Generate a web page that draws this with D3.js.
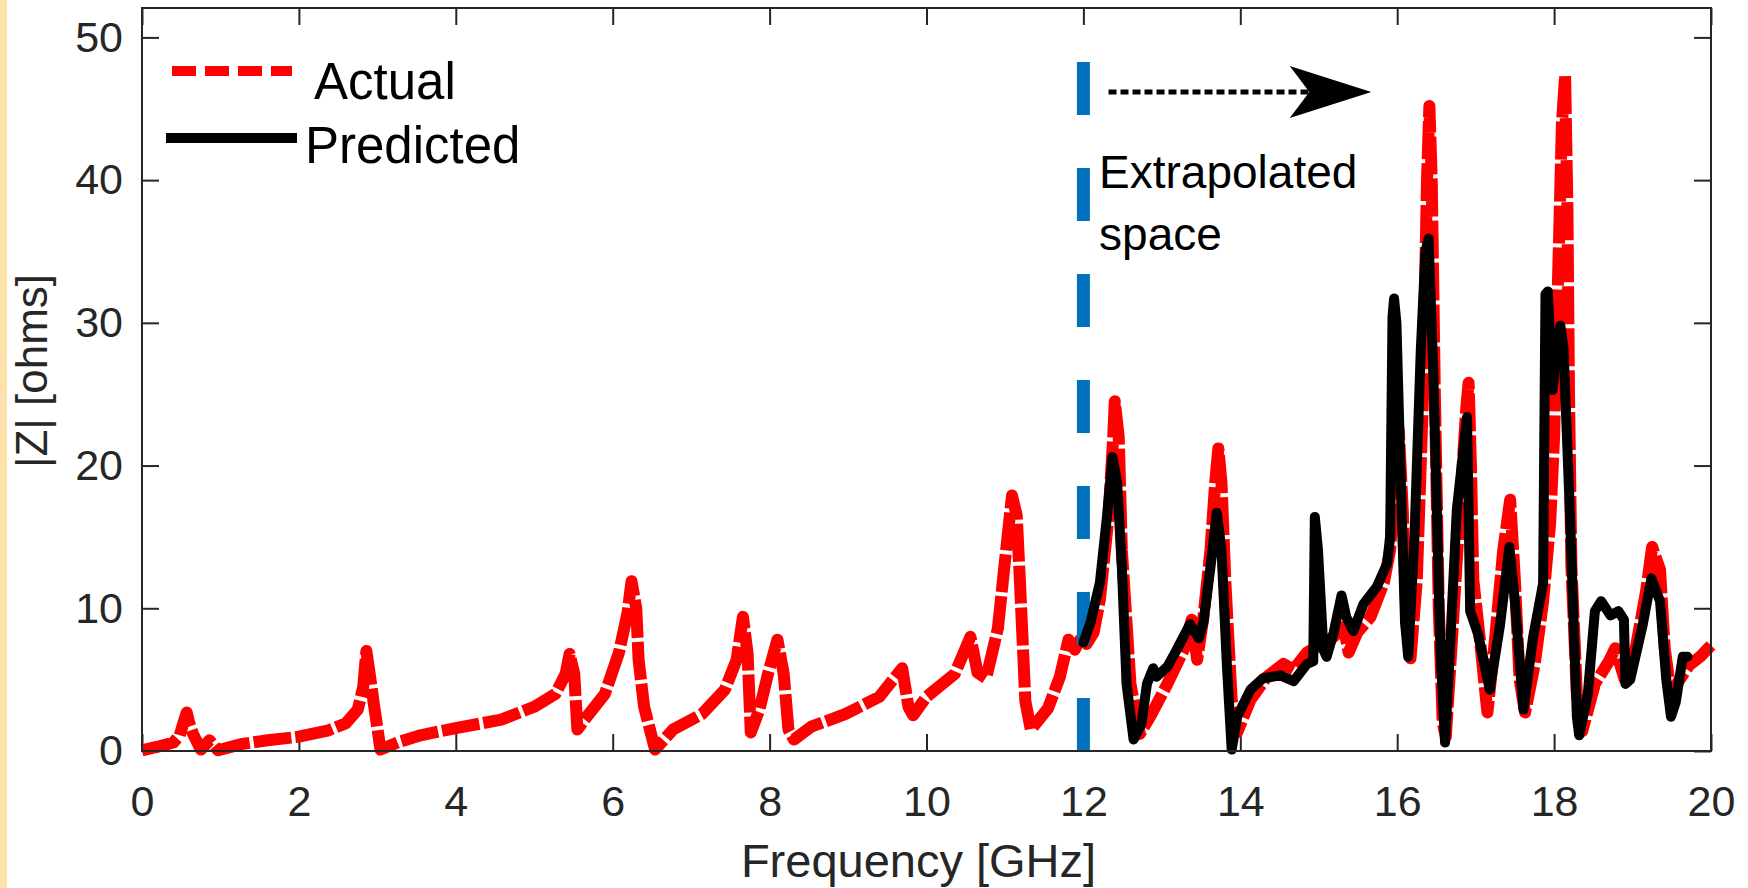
<!DOCTYPE html>
<html>
<head>
<meta charset="utf-8">
<script src="https://cdn.jsdelivr.net/npm/d3@7/dist/d3.min.js"></script>
<style>
  html, body { margin: 0; padding: 0; background: #fff; }
  svg text { font-family: "Liberation Sans", Arial, sans-serif; }
</style>
</head>
<body>
<script>
// |Z| actual (red) over 0-20 GHz
var freqActual = [0.00,0.20,0.40,0.48,0.53,0.57,0.60,0.65,0.75,0.86,0.97,1.28,1.60,2.00,2.38,2.60,2.75,2.82,2.86,2.90,2.95,3.04,
  3.26,3.55,4.00,4.58,5.00,5.27,5.40,5.45,5.51,5.55,5.64,5.90,6.08,6.19,6.24,6.30,6.33,6.40,6.54,6.77,7.14,7.43,7.58,7.66,7.72,
  7.76,7.87,7.98,8.10,8.18,8.24,8.31,8.53,8.97,9.40,9.69,9.77,9.83,10.00,10.36,10.56,10.65,10.76,10.91,11.00,11.09,11.15,11.19,
  11.26,11.33,11.55,11.70,11.81,11.89,11.96,12.04,12.13,12.21,12.32,12.38,12.40,12.45,12.49,12.60,12.72,12.85,13.07,13.28,13.38,
  13.45,13.53,13.62,13.68,13.72,13.76,13.81,13.89,13.96,14.13,14.34,14.55,14.68,14.85,14.98,15.19,15.32,15.38,15.49,15.66,15.83,
  15.91,15.98,16.02,16.07,16.12,16.17,16.25,16.33,16.38,16.41,16.44,16.48,16.53,16.58,16.62,16.70,16.80,16.88,16.91,16.94,16.97,
  17.00,17.07,17.15,17.25,17.35,17.44,17.50,17.56,17.63,17.75,17.86,17.95,18.00,18.05,18.10,18.14,18.17,18.19,18.22,18.29,18.36,
  18.52,18.70,18.78,18.90,19.04,19.17,19.25,19.35,19.41,19.49,19.60,19.72,19.86,20.00];
var zActual = [0.05,0.3,0.6,1.1,2.0,2.7,2.0,1.2,0.1,0.75,0.05,0.5,0.75,1.0,1.45,1.95,2.9,4.5,7.0,5.5,3.5,0.1,
  0.6,1.1,1.6,2.2,3.1,4.0,5.4,6.8,5.4,1.5,2.2,4.0,6.9,9.7,11.9,10.0,6.4,3.1,0.1,1.5,2.6,4.3,6.4,9.4,6.8,
  1.3,2.9,5.4,7.8,5.4,1.5,0.8,1.7,2.6,3.8,5.8,3.1,2.5,3.8,5.4,8.0,5.5,5.1,8.6,13.3,17.9,16.5,12.0,
  3.5,1.5,3.0,5.2,7.8,7.1,7.8,7.5,8.3,10.6,16.4,22.0,24.5,22.0,14.1,4.7,1.2,2.4,4.7,7.1,9.2,
  6.4,9.4,14.1,18.8,21.2,18.8,11.8,3.6,1.3,3.6,5.2,6.1,5.7,6.9,7.3,8.0,8.7,6.9,8.3,9.4,11.8,
  14.1,20.0,22.5,17.0,9.0,6.5,12,25,40,45.2,40,25,10,2,1.0,8,17,24,25.8,20,12,
  10.5,7,2.7,8,14,17.6,12,5,2.7,6,10.5,16,22,33,44,47.3,38,25,13,4,1.4,
  4.7,6.3,7.2,5.0,7.2,11.1,14.3,12.7,7.2,4.0,5.0,6.0,6.6,7.4];

// |Z| predicted (black), extrapolated region only
var freqPred = [12.00,12.09,12.21,12.30,12.37,12.43,12.49,12.55,12.64,12.74,12.81,12.89,12.93,13.07,13.19,13.36,13.47,13.53,
  13.62,13.70,13.76,13.83,13.89,13.96,14.13,14.29,14.51,14.68,14.85,14.93,14.95,14.99,15.06,15.10,15.19,15.29,15.35,15.44,
  15.57,15.74,15.87,15.91,15.94,15.96,15.99,16.04,16.10,16.14,16.22,16.30,16.36,16.40,16.46,16.55,16.61,16.68,16.76,16.89,
  16.91,16.93,17.03,17.18,17.31,17.43,17.50,17.61,17.73,17.86,17.89,17.92,17.98,18.05,18.08,18.12,18.20,18.29,18.32,18.43,
  18.52,18.60,18.72,18.82,18.89,18.91,18.97,19.13,19.24,19.35,19.43,19.49,19.55,19.64,19.70];
var zPred = [7.6,9.0,11.8,16.4,20.6,18.8,12.9,4.7,0.8,1.9,4.7,5.8,5.2,5.9,7.1,8.9,7.9,9.0,
  12.9,16.7,14.1,5.9,0.1,2.4,4.3,5.1,5.3,4.9,6.1,6.3,16.4,14.1,7.1,6.6,8.3,10.9,9.4,8.4,
  10.3,11.5,13.1,15.0,30.4,31.7,30,20,9,6.6,15,28,35,35.9,26.6,7.2,0.6,8,16.9,23.4,
  16.9,9.8,8.2,4.3,8.8,14.3,10.5,2.9,7.9,11.75,32.0,32.2,25.3,29,29.8,28.2,16.9,2.4,1.1,4.0,
  9.8,10.5,9.5,9.8,9.2,4.7,5.0,8.85,12.1,10.5,5.0,2.4,3.4,6.6,6.6];

var xTicks = [0,2,4,6,8,10,12,14,16,18,20];
var yTicks = [0,10,20,30,40,50];
var splitFreq = 12;

var W = 1748, H = 888;
var margin = {top: 8, right: 37, bottom: 137, left: 142};
var width = W - margin.left - margin.right,
    height = H - margin.top - margin.bottom;

var svg = d3.select("body").append("svg").attr("width", W).attr("height", H);
svg.append("rect").attr("width", W).attr("height", H).attr("fill", "#fff");
svg.append("rect").attr("width", 7).attr("height", H).attr("fill", "#fde3a9");

var g = svg.append("g").attr("transform", "translate(" + margin.left + "," + margin.top + ")");

var x = d3.scaleLinear().domain([0, 20]).range([0, width]);
var y = d3.scaleLinear().domain([0, 52.06]).range([height, 0]);

var axisColor = "#262626";
function styleAxis(sel) {
  sel.select(".domain").remove();
  sel.selectAll("line").attr("stroke", axisColor).attr("stroke-width", 2);
  sel.selectAll("text").attr("fill", axisColor).style("font-size", "43px");
}

// Bottom / left axes with labels, top / right with ticks only (inward ticks)
g.append("g").attr("transform", "translate(0," + height + ")")
  .call(d3.axisBottom(x).tickValues(xTicks).tickSizeInner(-17).tickSizeOuter(0).tickPadding(34))
  .call(styleAxis);
g.append("g")
  .call(d3.axisLeft(y).tickValues(yTicks).tickSizeInner(-17).tickSizeOuter(0).tickPadding(19))
  .call(styleAxis);
g.append("g")
  .call(d3.axisTop(x).tickValues(xTicks).tickSizeInner(-17).tickSizeOuter(0).tickFormat(""))
  .call(styleAxis);
g.append("g").attr("transform", "translate(" + width + ",0)")
  .call(d3.axisRight(y).tickValues(yTicks).tickSizeInner(-17).tickSizeOuter(0).tickFormat(""))
  .call(styleAxis);

var actual = freqActual.map(function(f, i) { return {f: f, z: zActual[i]}; });
var pred = freqPred.map(function(f, i) { return {f: f, z: zPred[i]}; });
var line = d3.line().x(function(d) { return x(d.f); }).y(function(d) { return y(d.z); });

var plot = g.append("g");

plot.append("path").datum(actual).attr("d", line)
  .attr("fill", "none").attr("stroke", "#ff0000").attr("stroke-width", 12)
  .attr("stroke-dasharray", "38 4").attr("stroke-linejoin", "round");

// split line between training and extrapolated space
plot.append("line")
  .attr("x1", x(splitFreq)).attr("x2", x(splitFreq))
  .attr("y1", y(0)).attr("y2", y(48.3))
  .attr("stroke", "#0072bd").attr("stroke-width", 13).attr("stroke-dasharray", "53 53");

plot.append("path").datum(pred).attr("d", line)
  .attr("fill", "none").attr("stroke", "#000").attr("stroke-width", 10)
  .attr("stroke-linejoin", "round").attr("stroke-linecap", "round");

// frame
g.append("rect").attr("width", width).attr("height", height)
  .attr("fill", "none").attr("stroke", axisColor).attr("stroke-width", 2);

// arrow pointing into the extrapolated space
var ay = y(46.17), ax0 = x(12.32), axTip = x(15.67), axBack = x(14.63), axNotch = x(14.88);
g.append("line").attr("x1", ax0).attr("x2", axNotch + 4).attr("y1", ay).attr("y2", ay)
  .attr("stroke", "#000").attr("stroke-width", 5).attr("stroke-dasharray", "8 4");
g.append("path")
  .attr("d", "M" + axTip + "," + ay + "L" + axBack + "," + (ay - 26) + "L" + axNotch + "," + ay +
    "L" + axBack + "," + (ay + 26) + "Z")
  .attr("fill", "#000");

g.append("text").attr("x", x(12.2)).attr("y", 180).style("font-size", "46px").attr("fill", "#000")
  .text("Extrapolated");
g.append("text").attr("x", x(12.2)).attr("y", 242).style("font-size", "46px").attr("fill", "#000")
  .text("space");

// legend
var leg = g.append("g");
leg.append("line").attr("x1", 30).attr("x2", 150).attr("y1", 63).attr("y2", 63)
  .attr("stroke", "#ff0000").attr("stroke-width", 10).attr("stroke-dasharray", "24 9");
leg.append("text").attr("x", 172).attr("y", 91).style("font-size", "51px").attr("fill", "#000").text("Actual");
leg.append("line").attr("x1", 24).attr("x2", 155).attr("y1", 130).attr("y2", 130)
  .attr("stroke", "#000").attr("stroke-width", 10);
leg.append("text").attr("x", 163).attr("y", 155).style("font-size", "51px").attr("fill", "#000").text("Predicted");

// axis titles
svg.append("text").attr("x", margin.left + width / 2 - 8).attr("y", 877)
  .attr("text-anchor", "middle").style("font-size", "47px").attr("fill", axisColor)
  .text("Frequency [GHz]");
svg.append("text").attr("transform", "translate(47,371) rotate(-90)")
  .attr("text-anchor", "middle").style("font-size", "44px").attr("fill", axisColor)
  .text("|Z| [ohms]");
</script>
</body>
</html>
